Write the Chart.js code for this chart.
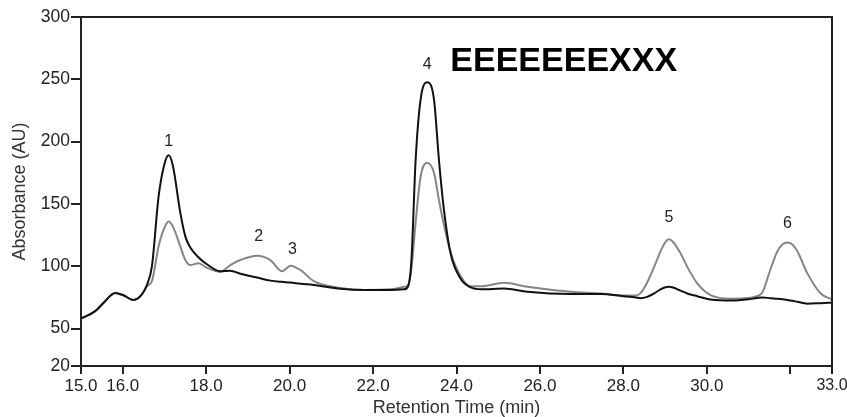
<!DOCTYPE html>
<html>
<head>
<meta charset="utf-8">
<script src="https://cdn.jsdelivr.net/npm/chart.js@4.4.1/dist/chart.umd.min.js"></script>
<style>
  body { margin: 0; background: #fff; }
  #wrap { width: 847px; height: 417px; }
</style>
</head>
<body>
<div id="wrap"><canvas id="chart"></canvas></div>
<script>
// retention time (min)
const times = [15.0, 15.34, 15.55, 15.82, 16.0, 16.26, 16.45, 16.58, 16.7, 16.86, 17.0, 17.1, 17.2, 17.38, 17.5, 17.62, 17.82, 18.0,
  18.34, 18.58, 18.82, 19.22, 19.54, 19.82, 20.02, 20.26, 20.58, 21.22, 21.8, 22.42, 22.74, 22.84, 22.92, 23.02, 23.14, 23.3,
  23.46, 23.58, 23.7, 23.86, 24.1, 24.34, 24.6, 25.14, 25.7, 26.74, 27.46, 28.0, 28.3, 28.41, 28.57, 28.73, 28.89, 28.99, 29.09,
  29.19, 29.37, 29.53, 29.77, 30.09, 30.6, 31.0, 31.2, 31.33, 31.53, 31.69, 31.81, 31.93, 32.05, 32.17, 32.41, 32.73, 33.0]

// dark trace
const traceDark = [58, 64, 71, 78.5, 77, 73, 77, 85, 100, 156, 182, 189, 181, 143, 124, 115, 107, 102,
  96, 96.5, 94, 91, 88.5, 87.5, 87, 86, 85, 82, 81, 81, 81.5, 84, 105, 185, 234, 247.6,
  234, 185, 145, 110, 90, 83, 81.5, 82.2, 79.5, 77.7, 77.7, 76, 75, 74.4, 75.5, 78, 81.5, 83, 83.5,
  83, 80.5, 78.2, 76, 73.4, 72.5, 73.5, 74.5, 75, 74.4, 74, 73.6, 73, 72.3, 71.5, 70, 70.4, 70.8]

// grey trace
const traceGrey = [58, 64, 71, 78.5, 77, 73, 77, 84, 88, 116, 131, 136, 132, 116, 105, 101, 102.5, 99,
  95.5, 101, 105, 108.5, 105, 96, 100.5, 97, 88, 82.5, 81, 81.5, 83.5, 85, 98, 135, 172, 183,
  175, 153, 133, 111, 92, 84, 84, 86.8, 83.5, 79.5, 78.2, 76.5, 76.5, 78.5, 87, 99, 112, 118.5, 121.6,
  119.5, 110.4, 99.6, 86.3, 76.9, 74, 74.5, 76, 79, 98, 112, 117.5, 119, 117.5, 112, 94.3, 78.2, 73.4]

const yTicks = [20, 50, 100, 150, 200, 250, 300]
const xTicks = [15, 16, 18, 20, 22, 24, 26, 28, 30, 32, 33]
const xUnlabeled = [32]

const peakNames = ['1', '2', '3', '4', '5', '6']
const peakTimes = [17.1, 19.26, 20.07, 23.3, 29.09, 31.93]
const peakLabelY = [200, 123.7, 113, 261.8, 139.3, 134.5]

const headline = 'EEEEEEEXXX'
const headlineAt = [26.57, 264.2]

const FONT = 'Liberation Sans, Arial, Helvetica, sans-serif'
const INK = '#222'

const toPoints = vals => times.map((t, i) => ({ x: t, y: vals[i] }))

const annotations = {
  id: 'annotations',
  afterDraw(chart) {
    const { ctx, chartArea, scales } = chart
    ctx.save()
    // frame top and right
    ctx.strokeStyle = INK
    ctx.lineWidth = 2
    ctx.beginPath()
    ctx.moveTo(chartArea.left, chartArea.top)
    ctx.lineTo(chartArea.right, chartArea.top)
    ctx.lineTo(chartArea.right, chartArea.bottom)
    ctx.stroke()

    ctx.fillStyle = INK
    ctx.textAlign = 'center'
    ctx.textBaseline = 'middle'
    ctx.font = '16px ' + FONT
    peakNames.forEach((n, i) => {
      ctx.fillText(n, scales.x.getPixelForValue(peakTimes[i]), scales.y.getPixelForValue(peakLabelY[i]))
    })
    ctx.fillStyle = '#000'
    ctx.font = 'bold 34px ' + FONT
    ctx.fillText(headline, scales.x.getPixelForValue(headlineAt[0]), scales.y.getPixelForValue(headlineAt[1]))
    ctx.restore()
  }
}

new Chart(document.getElementById('chart').getContext('2d'), {
  type: 'line',
  data: {
    datasets: [{
      data: toPoints(traceDark),
      borderColor: '#111',
      borderWidth: 2,
      pointRadius: 0,
      cubicInterpolationMode: 'monotone',
      fill: false
    }, {
      data: toPoints(traceGrey),
      borderColor: '#858585',
      borderWidth: 2,
      pointRadius: 0,
      cubicInterpolationMode: 'monotone',
      fill: false
    }]
  },
  options: {
    responsive: true,
    maintainAspectRatio: false,
    animation: false,
    layout: { padding: { top: 17, right: 15, bottom: 0, left: 0 } },
    plugins: { legend: { display: false }, tooltip: { enabled: false } },
    scales: {
      x: {
        type: 'linear',
        min: 15,
        max: 33,
        afterBuildTicks: s => { s.ticks = xTicks.map(v => ({ value: v })) },
        afterFit: s => { s.height = 51; s.paddingRight = 0; s.paddingLeft = 0 },
        ticks: {
          color: INK,
          // last label sits at the canvas edge, slightly narrower as in the source
          font: c => ({ family: FONT, size: c.index === xTicks.length - 1 ? 16 : 17 }),
          padding: 2,
          maxRotation: 0,
          autoSkip: false,
          callback: v => xUnlabeled.includes(v) ? '' : v.toFixed(1)
        },
        grid: { drawOnChartArea: false, drawTicks: true, tickLength: 8, color: INK, lineWidth: 2 },
        border: { color: INK, width: 2 },
        title: {
          display: true,
          text: 'Retention Time (min)',
          color: '#333',
          font: { family: FONT, size: 18, lineHeight: 1 },
          padding: { top: 0, bottom: 0 }
        }
      },
      y: {
        min: 20,
        max: 300,
        afterBuildTicks: s => { s.ticks = yTicks.map(v => ({ value: v })) },
        afterFit: s => { s.width = 81 },
        ticks: {
          color: INK,
          font: { family: FONT, size: 17.5 },
          padding: 1
        },
        grid: { drawOnChartArea: false, drawTicks: true, tickLength: 10, color: INK, lineWidth: 2 },
        border: { color: INK, width: 2 },
        title: {
          display: true,
          text: 'Absorbance (AU)',
          color: '#333',
          font: { family: FONT, size: 18, lineHeight: 1 },
          padding: { top: 11, bottom: 0 }
        }
      }
    }
  },
  plugins: [annotations]
})
</script>
</body>
</html>
